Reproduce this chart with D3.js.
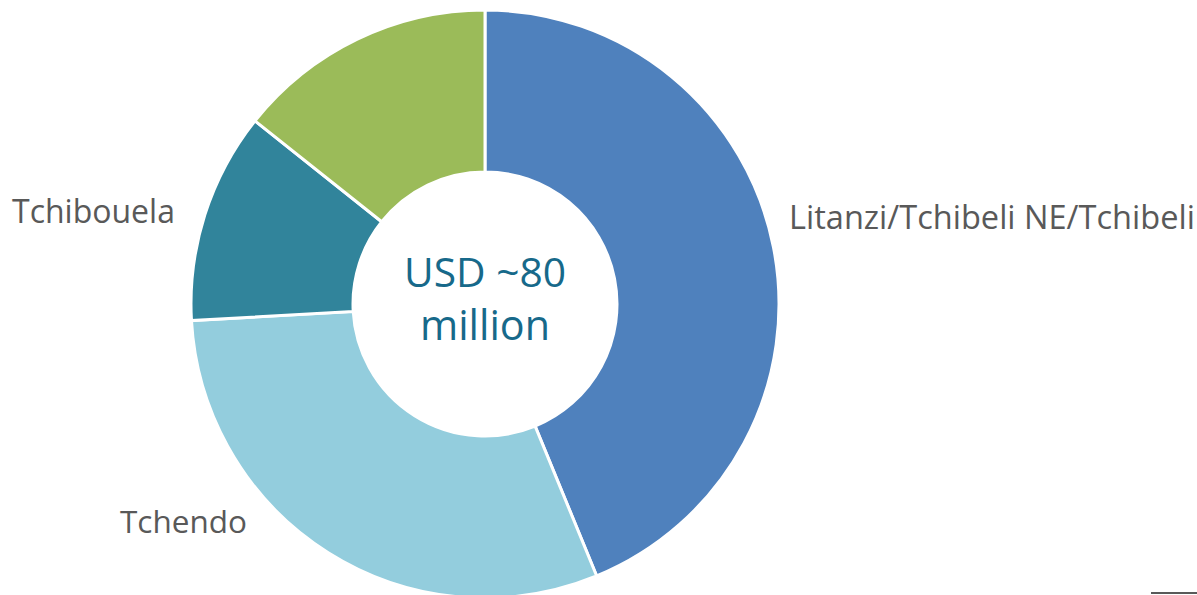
<!DOCTYPE html>
<html>
<head>
<meta charset="utf-8">
<script src="https://cdn.jsdelivr.net/npm/d3@7"></script>
<style>
  body { margin: 0; background: #fff; }
  svg { display: block; }
  text { font-family: "Open Sans", "DejaVu Sans", sans-serif; }
</style>
</head>
<body>
<div class="canvas"></div>
<script>
// field shares of ~80 MUSD (%)
const fields = ['Litanzi/Tchibeli NE/Tchibeli', 'Tchendo', 'Tchibouela', 'Loango'];
const shares = [43.8, 30.3, 11.6, 14.3];
const colors = ['#4f81bd', '#93cddd', '#31849b', '#9bbb59'];
const centerLines = ['USD ~80', 'million'];

const width = 1197;
const height = 595;

const svg = d3.select('.canvas')
  .append('svg')
  .attr('width', width)
  .attr('height', height);

const cx = 485, cy = 304;
const outer = 294, inner = 132;

const data = fields.map((f, i) => ({ name: f, value: shares[i], color: colors[i] }));

const pie = d3.pie()
  .sort(null)
  .value(d => d.value);

const arc = d3.arc()
  .innerRadius(inner)
  .outerRadius(outer);

const graph = svg.append('g')
  .attr('transform', `translate(${cx}, ${cy})`);

graph.selectAll('path')
  .data(pie(data))
  .enter()
  .append('path')
  .attr('d', arc)
  .attr('fill', d => d.data.color)
  .attr('stroke', '#fff')
  .attr('stroke-width', 3);

// scale font so text spans the wanted width
const fit = (sel, w) => {
  const len = sel.node().getComputedTextLength();
  const fs = parseFloat(sel.attr('font-size'));
  sel.attr('font-size', fs * w / len);
};

// labels, placed like the original slide (top one runs off the page)
const labels = [
  { i: 0, x: 789, y: 229, w: 406 },
  { i: 1, x: 120, y: 533, w: 127 },
  { i: 2, x: 12, y: 223, w: 163 },
  { i: 3, x: 254, y: -9, w: 120 }
];

labels.forEach(l => {
  const t = svg.append('text')
    .attr('x', l.x)
    .attr('y', l.y)
    .attr('font-size', 30)
    .attr('fill', '#595959')
    .text(fields[l.i]);
  fit(t, l.w);
});

// centre text
const centerY = [287, 340];
const centerW = [162, 130];
centerLines.forEach((s, i) => {
  const t = graph.append('text')
    .attr('x', 0)
    .attr('y', centerY[i] - cy)
    .attr('text-anchor', 'middle')
    .attr('font-size', 40)
    .attr('fill', '#17698a')
    .text(s);
  fit(t, centerW[i]);
});

// stray rule at bottom right of slide
svg.append('line')
  .attr('x1', 1151).attr('x2', width)
  .attr('y1', 593).attr('y2', 593)
  .attr('stroke', '#222')
  .attr('stroke-width', 1.5);
</script>
</body>
</html>
